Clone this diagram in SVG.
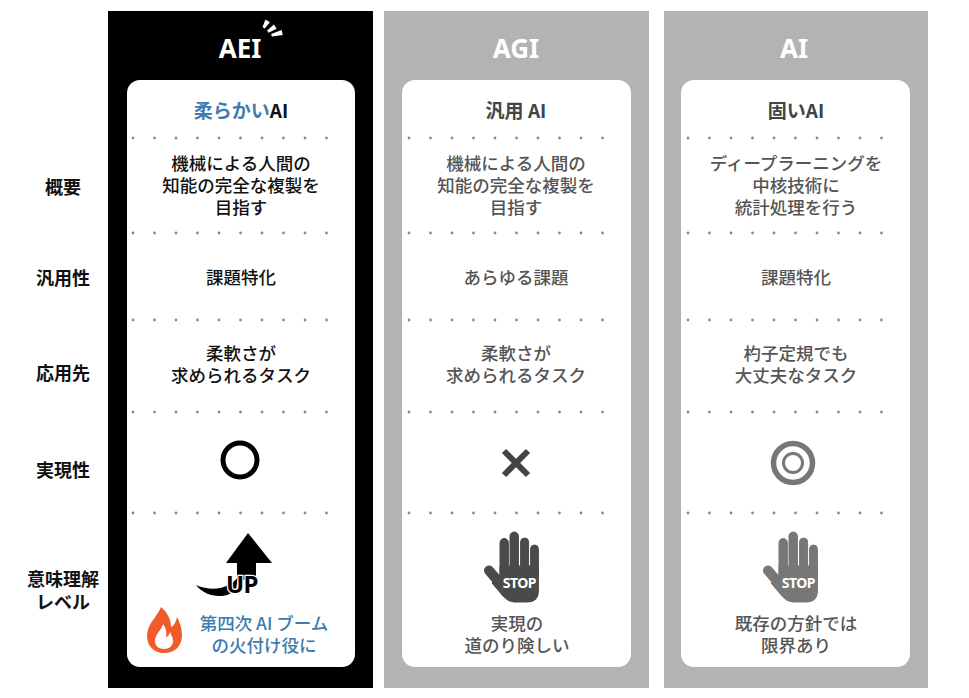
<svg xmlns="http://www.w3.org/2000/svg" width="969" height="698" viewBox="0 0 969 698">
<defs>
<style>
.jp{font-family:"Noto Sans CJK JP","Noto Sans",sans-serif}
.lbl{font-size:18px;font-weight:700;fill:#111;text-anchor:middle}
.hdr{font-family:"Noto Sans","DejaVu Sans",sans-serif;font-size:26px;font-weight:700;fill:#fff;text-anchor:middle}
.ttl{font-size:19px;font-weight:700;text-anchor:middle}
.body{font-size:17.5px;font-weight:500;text-anchor:middle}
.dk{fill:#111}
.gr{fill:#555}
.blue{fill:#3d7cb0}
.dots{stroke:#8a8a8a;stroke-width:2.8;stroke-linecap:round;stroke-dasharray:0 21.5;fill:none}
.card{fill:#fff}
</style>
<g id="hand">
<rect x="17" y="6.5" width="8.4" height="40" rx="4.2"/>
<rect x="27" y="0" width="8.4" height="45" rx="4.2"/>
<rect x="37.6" y="6" width="8" height="41" rx="4"/>
<rect x="47.6" y="13" width="7.8" height="36" rx="3.9"/>
<path d="M17,34 H55.4 V59 Q55.4,70 44.5,70 H31 Q25,70 20,64 L9,51 L17,44 Z"/>
<line x1="6" y1="38.5" x2="21" y2="56" stroke-width="10" stroke-linecap="round"/>
<text x="36.3" y="56.3" font-family="'Noto Sans','DejaVu Sans',sans-serif" font-size="14" font-weight="700" letter-spacing="-0.6" text-anchor="middle" fill="#fff" stroke="none">STOP</text>
</g>
</defs>
<rect width="969" height="698" fill="#fff"/>

<g id="row-labels" class="jp">
<text class="lbl" x="63" y="194">概要</text>
<text class="lbl" x="63" y="285">汎用性</text>
<text class="lbl" x="63" y="380">応用先</text>
<text class="lbl" x="63" y="477">実現性</text>
<text class="lbl" x="63" y="586">意味理解</text>
<text class="lbl" x="63" y="609">レベル</text>
</g>

<g id="col-aei" class="jp">
<rect x="108" y="11" width="265" height="677" fill="#000"/>
<text class="hdr" x="240" y="58">AEI</text>
<g id="sparkle" fill="#fff">
<polygon points="264.7,28.5 262.5,27.1 265.5,19.6 269.9,22.2"/>
<polygon points="268.5,32.8 267.1,30.6 273.9,24.6 276.7,28.8"/>
<polygon points="271.8,36.6 271.2,34.0 281.6,30.1 282.8,34.9"/>
</g>
<rect class="card" x="127" y="80" width="228" height="587" rx="13"/>
<text class="ttl" x="241" y="118"><tspan class="blue">柔らかい</tspan><tspan class="dk">AI</tspan></text>
<line class="dots" x1="133" y1="138" x2="348" y2="138"/>
<text class="body dk" x="241" y="170">機械による人間の</text>
<text class="body dk" x="241" y="192">知能の完全な複製を</text>
<text class="body dk" x="241" y="214">目指す</text>
<line class="dots" x1="133" y1="233" x2="348" y2="233"/>
<text class="body dk" x="241" y="284">課題特化</text>
<line class="dots" x1="133" y1="320" x2="348" y2="320"/>
<text class="body dk" x="241" y="360">柔軟さが</text>
<text class="body dk" x="241" y="382">求められるタスク</text>
<line class="dots" x1="133" y1="412" x2="348" y2="412"/>
<circle cx="240" cy="460" r="17" fill="none" stroke="#000" stroke-width="5"/>
<line class="dots" x1="133" y1="513" x2="348" y2="513"/>
<g id="up-arrow">
<polygon points="248,533 226,563 272,563" fill="#000"/>
<path d="M237,560 H256 V580 H237 Z" fill="#000"/>
<path d="M196,585 C205,597 225,600 236,590 L238,577 C229,589 212,592 196,585 Z" fill="#000"/>
<text x="242" y="593" font-family="'Noto Sans','DejaVu Sans',sans-serif" font-size="24" font-weight="700" fill="#000" stroke="#fff" stroke-width="2.5" paint-order="stroke" text-anchor="middle" letter-spacing="-0.5">UP</text>
</g>
<g id="fire">
<path d="M161,607 C157,617 147,624 147,636 C147,646 154,653 164,653 C175,653 182,646 182,635 C182,627 179,621 177,617 C176,622 174,626 171,627 C171,619 167,612 161,607 Z" fill="#f15a29"/>
<path d="M163,624 C161,631 155,634 155,641 C155,646 159,649 164,649 C169,649 173,646 173,641 C173,637 171,635 170,632 C169,636 167,637 166,637 C167,632 166,628 163,624 Z" fill="#fff"/>
</g>
<text class="body blue" x="264" y="630" font-weight="700">第四次 AI ブーム</text>
<text class="body blue" x="264" y="652" font-weight="700">の火付け役に</text>
</g>

<g id="col-agi" class="jp">
<rect x="384" y="11" width="265" height="677" fill="#b3b3b3"/>
<text class="hdr" x="516" y="58">AGI</text>
<rect class="card" x="402" y="80" width="229" height="587" rx="13"/>
<text class="ttl" x="516" y="118" fill="#444">汎用 AI</text>
<line class="dots" x1="409" y1="138" x2="624" y2="138"/>
<text class="body gr" x="516" y="170">機械による人間の</text>
<text class="body gr" x="516" y="192">知能の完全な複製を</text>
<text class="body gr" x="516" y="214">目指す</text>
<line class="dots" x1="409" y1="233" x2="624" y2="233"/>
<text class="body gr" x="516" y="284">あらゆる課題</text>
<line class="dots" x1="409" y1="320" x2="624" y2="320"/>
<text class="body gr" x="516" y="360">柔軟さが</text>
<text class="body gr" x="516" y="382">求められるタスク</text>
<line class="dots" x1="409" y1="412" x2="624" y2="412"/>
<g stroke="#444" stroke-width="6">
<line x1="504" y1="451" x2="528" y2="475"/>
<line x1="528" y1="451" x2="504" y2="475"/>
</g>
<line class="dots" x1="409" y1="513" x2="624" y2="513"/>
<use href="#hand" transform="translate(483,532)" fill="#4a4a4a" stroke="#4a4a4a"/>
<text class="body gr" x="517" y="630">実現の</text>
<text class="body gr" x="517" y="652">道のり険しい</text>
</g>

<g id="col-ai" class="jp">
<rect x="664" y="11" width="264" height="677" fill="#b3b3b3"/>
<text class="hdr" x="794" y="58">AI</text>
<rect class="card" x="681" y="80" width="229" height="587" rx="13"/>
<text class="ttl" x="796" y="118" fill="#444">固いAI</text>
<line class="dots" x1="688" y1="138" x2="903" y2="138"/>
<text class="body gr" x="796" y="170">ディープラーニングを</text>
<text class="body gr" x="796" y="192">中核技術に</text>
<text class="body gr" x="796" y="214">統計処理を行う</text>
<line class="dots" x1="688" y1="233" x2="903" y2="233"/>
<text class="body gr" x="796" y="284">課題特化</text>
<line class="dots" x1="688" y1="320" x2="903" y2="320"/>
<text class="body gr" x="796" y="360">杓子定規でも</text>
<text class="body gr" x="796" y="382">大丈夫なタスク</text>
<line class="dots" x1="688" y1="412" x2="903" y2="412"/>
<circle cx="793" cy="463" r="19.5" fill="none" stroke="#777" stroke-width="5.5"/>
<circle cx="793" cy="463" r="9.5" fill="none" stroke="#777" stroke-width="3"/>
<line class="dots" x1="688" y1="513" x2="903" y2="513"/>
<use href="#hand" transform="translate(762,532)" fill="#777" stroke="#777"/>
<text class="body gr" x="796" y="630">既存の方針では</text>
<text class="body gr" x="796" y="652">限界あり</text>
</g>
</svg>
